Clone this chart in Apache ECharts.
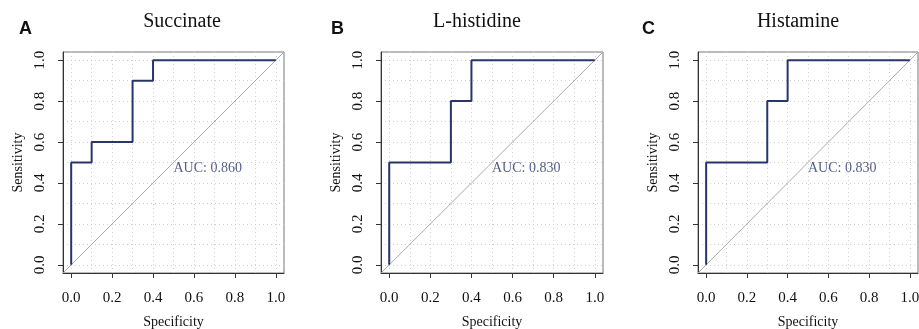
<!DOCTYPE html>
<html>
<head>
<meta charset="utf-8">
<script src="https://cdn.jsdelivr.net/npm/echarts@6/dist/echarts.min.js"></script>
<style>
  html, body { margin: 0; padding: 0; background: #fff; }
  #main { width: 919px; height: 329px; }
</style>
</head>
<body>
<div id="main"></div>
<script>
// panel names and letters
const panelTitles = ["Succinate", "L-histidine", "Histamine"];
const panelLetters = ["A", "B", "C"];
const aucLabels = ["AUC: 0.860", "AUC: 0.830", "AUC: 0.830"];

// ROC step curves (specificity, sensitivity)
const succinateX = [0, 0, 0.1, 0.1, 0.3, 0.3, 0.4, 0.4, 1.0];
const succinateY = [0, 0.5, 0.5, 0.6, 0.6, 0.9, 0.9, 1.0, 1.0];
const histidineX = [0, 0, 0.3, 0.3, 0.4, 0.4, 1.0];
const histidineY = [0, 0.5, 0.5, 0.8, 0.8, 1.0, 1.0];
const histamineX = [0, 0, 0.3, 0.3, 0.4, 0.4, 1.0];
const histamineY = [0, 0.5, 0.5, 0.8, 0.8, 1.0, 1.0];

const tickValues = [0, 0.2, 0.4, 0.6, 0.8, 1.0];
const gridValues = [0, 0.1, 0.2, 0.3, 0.4, 0.5, 0.6, 0.7, 0.8, 0.9, 1.0];
const axisMin = -0.04;
const axisMax = 1.04;
const aucPos = [0.5, 0.47];

const curves = [
  [succinateX, succinateY],
  [histidineX, histidineY],
  [histamineX, histamineY],
];

const serif = "Liberation Serif";
const navy = "#28356b";
const grids = [
  { left: 63, top: 52, width: 221, height: 221 },
  { left: 381, top: 52, width: 222, height: 221 },
  { left: 698, top: 52, width: 220, height: 221 },
];
const titleX = [182, 477, 798];
const letterX = [19, 331, 642];

const chart = echarts.init(document.getElementById("main"));

const xAxes = [], yAxes = [], series = [], graphics = [];

grids.forEach((g, i) => {
  const axisCommon = {
    type: "value",
    gridIndex: i,
    min: axisMin,
    max: axisMax,
    axisLine: { show: true, onZero: false, lineStyle: { color: "#333", width: 1 } },
    axisTick: { show: true, length: 5, customValues: tickValues, lineStyle: { color: "#333" } },
    splitLine: { show: false },
    nameLocation: "middle",
    nameTextStyle: { fontFamily: serif, fontSize: 14, color: "#111" },
  };
  xAxes.push(Object.assign({}, axisCommon, {
    name: "Specificity",
    nameGap: 42,
    axisLabel: {
      customValues: tickValues, margin: 18,
      fontFamily: serif, fontSize: 15, color: "#111",
      formatter: v => v.toFixed(1),
    },
  }));
  yAxes.push(Object.assign({}, axisCommon, {
    name: "Sensitivity",
    nameGap: 38,
    axisLabel: {
      customValues: tickValues, margin: 15, rotate: 90,
      fontFamily: serif, fontSize: 15, color: "#111",
      formatter: v => v.toFixed(1),
    },
  }));

  // dotted background grid
  series.push({
    type: "line",
    xAxisIndex: i, yAxisIndex: i,
    data: [],
    silent: true,
    z: 0,
    markLine: {
      silent: true,
      symbol: "none",
      z: 0,
      label: { show: false },
      lineStyle: { color: "#d0d0d0", type: [1, 3], width: 1 },
      data: gridValues.map(v => ({ xAxis: v })).concat(gridValues.map(v => ({ yAxis: v }))),
    },
  });
  // diagonal reference
  series.push({
    type: "line",
    xAxisIndex: i, yAxisIndex: i,
    data: [[axisMin, axisMin], [axisMax, axisMax]],
    symbol: "none",
    silent: true,
    lineStyle: { color: "#aaaaaa", width: 1 },
    z: 2,
  });
  // ROC curve
  const [xs, ys] = curves[i];
  series.push({
    type: "line",
    xAxisIndex: i, yAxisIndex: i,
    data: xs.map((x, k) => [x, ys[k]]),
    symbol: "none",
    lineStyle: { color: navy, width: 2 },
    z: 5,
  });
  // AUC text
  series.push({
    type: "scatter",
    xAxisIndex: i, yAxisIndex: i,
    data: [aucPos],
    symbolSize: 0,
    z: 6,
    label: {
      show: true, position: "right", distance: 0,
      formatter: aucLabels[i],
      fontFamily: serif, fontSize: 14, color: navy,
    },
  });

  graphics.push({
    type: "text", x: titleX[i], y: 22,
    style: { text: panelTitles[i], font: "20px 'Liberation Serif'", fill: "#111", textAlign: "center", textVerticalAlign: "middle" },
  });
  graphics.push({
    type: "text", x: letterX[i], y: 29,
    style: { text: panelLetters[i], font: "bold 18px 'Liberation Sans'", fill: "#111", textVerticalAlign: "middle" },
  });
});

chart.setOption({
  animation: false,
  grid: grids.map(g => Object.assign({
    show: true, borderColor: "#777", borderWidth: 1, backgroundColor: "transparent",
    containLabel: false, outerBoundsMode: "none",
  }, g)),
  xAxis: xAxes,
  yAxis: yAxes,
  series: series,
  graphic: graphics,
});
</script>
</body>
</html>
